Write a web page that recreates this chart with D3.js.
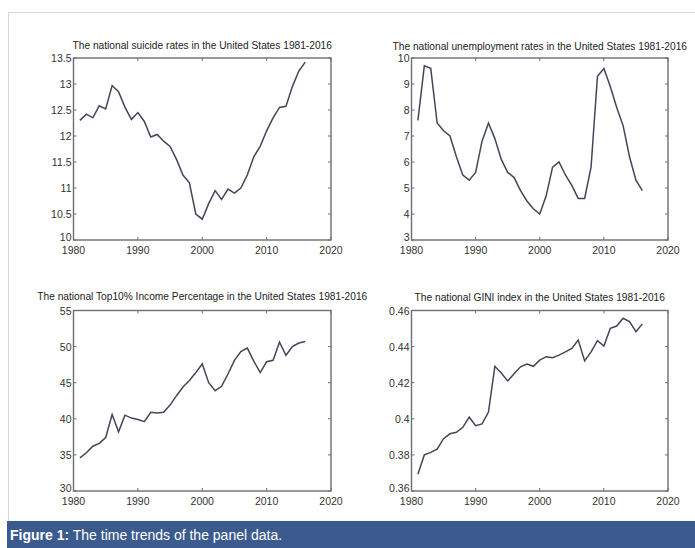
<!DOCTYPE html>
<html>
<head>
<meta charset="utf-8">
<script src="https://cdn.jsdelivr.net/npm/d3@7"></script>
<style>
  body { margin: 0; background: #fff; }
  svg text { font-family: "Liberation Sans", Arial, sans-serif; }
</style>
</head>
<body>
<svg id="fig" width="695" height="548"></svg>
<script>
// years 1981-2016
var years = d3.range(1981, 2017);

var suicide = [12.3, 12.42, 12.35, 12.58, 12.52, 12.97, 12.85, 12.55, 12.32, 12.45,
  12.28, 11.98, 12.03, 11.9, 11.8, 11.55, 11.25, 11.1, 10.5, 10.4,
  10.7, 10.95, 10.78, 10.98, 10.9, 11.0, 11.25, 11.6, 11.8, 12.1,
  12.35, 12.55, 12.57, 12.95, 13.25, 13.42];

var unemployment = [7.6, 9.7, 9.6, 7.5, 7.2, 7.0, 6.2, 5.5, 5.3, 5.6,
  6.8, 7.5, 6.9, 6.1, 5.6, 5.4, 4.9, 4.5, 4.2, 4.0,
  4.7, 5.8, 6.0, 5.5, 5.1, 4.6, 4.6, 5.8, 9.3, 9.6,
  8.9, 8.1, 7.4, 6.2, 5.3, 4.9];

var top10 = [34.6, 35.3, 36.2, 36.6, 37.4, 40.6, 38.2, 40.5, 40.1, 39.9,
  39.6, 40.9, 40.8, 40.9, 41.9, 43.2, 44.4, 45.3, 46.4, 47.6,
  45.0, 43.9, 44.5, 46.2, 48.1, 49.3, 49.8, 48.0, 46.4, 47.9,
  48.1, 50.6, 48.8, 50.0, 50.5, 50.7];

var gini = [0.3693, 0.380, 0.3814, 0.3832, 0.389, 0.3917, 0.3925, 0.3953, 0.4009, 0.3962,
  0.3972, 0.4037, 0.4291, 0.4254, 0.421, 0.425, 0.4288, 0.4303, 0.4291, 0.4325,
  0.4344, 0.4338, 0.4353, 0.4371, 0.439, 0.4436, 0.4321, 0.4371, 0.4433, 0.4403,
  0.4501, 0.4514, 0.4557, 0.4538, 0.4483, 0.4526];

var xTicks = [1980, 1990, 2000, 2010, 2020];

var titles = [
  "The national suicide rates in the United States 1981-2016",
  "The national unemployment rates in the United States 1981-2016",
  "The national Top10% Income Percentage in the United States 1981-2016",
  "The national GINI index in the United States 1981-2016"
];

var yDomains = [[10, 13.5], [3, 10], [30, 55], [0.36, 0.46]];
var yTicks = [
  [10, 10.5, 11, 11.5, 12, 12.5, 13, 13.5],
  [3, 4, 5, 6, 7, 8, 9, 10],
  [30, 35, 40, 45, 50, 55],
  [0.36, 0.38, 0.4, 0.42, 0.44, 0.46]
];
var series = [suicide, unemployment, top10, gini];

var svg = d3.select('#fig');

// frame round the figure
svg.append('rect')
  .attr('x', 8.5).attr('y', 12.5)
  .attr('width', 700).attr('height', 520)
  .attr('fill', 'none')
  .attr('stroke', '#d8d8d8');

// panel boxes
var boxes = [
  {x0: 73.5, x1: 331, y0: 58, y1: 240, ty: 49},
  {x0: 411.5, x1: 668, y0: 58, y1: 240, ty: 50},
  {x0: 73.5, x1: 331, y0: 310.5, y1: 491, ty: 300},
  {x0: 411.5, x1: 668, y0: 310.5, y1: 491, ty: 301}
];

var axisCol = '#6e6e6e';
var lineCol = '#434657';

boxes.forEach(function (b, i) {
  var x = d3.scaleLinear().domain([1980, 2020]).range([b.x0, b.x1]);
  var y = d3.scaleLinear().domain(yDomains[i]).range([b.y1, b.y0]);
  var g = svg.append('g');

  // title
  g.append('text')
    .attr('x', (b.x0 + b.x1) / 2)
    .attr('y', b.ty)
    .attr('text-anchor', 'middle')
    .attr('font-size', 10.2)
    .attr('fill', '#222')
    .text(titles[i]);

  // ticks inside on all four sides
  var tl = 3;
  xTicks.forEach(function (t) {
    g.append('line').attr('x1', x(t)).attr('x2', x(t))
      .attr('y1', b.y1).attr('y2', b.y1 - tl)
      .attr('stroke', axisCol).attr('stroke-width', 1);
    g.append('line').attr('x1', x(t)).attr('x2', x(t))
      .attr('y1', b.y0).attr('y2', b.y0 + tl)
      .attr('stroke', axisCol).attr('stroke-width', 1);
    g.append('text')
      .attr('x', x(t)).attr('y', b.y1 + 14)
      .attr('text-anchor', 'middle')
      .attr('font-size', 10.5)
      .attr('fill', '#333')
      .text(t);
  });
  yTicks[i].forEach(function (t, k) {
    g.append('line').attr('x1', b.x0).attr('x2', b.x0 + tl)
      .attr('y1', y(t)).attr('y2', y(t))
      .attr('stroke', axisCol).attr('stroke-width', 1);
    g.append('line').attr('x1', b.x1).attr('x2', b.x1 - tl)
      .attr('y1', y(t)).attr('y2', y(t))
      .attr('stroke', axisCol).attr('stroke-width', 1);
    // lowest label sits a little higher, clear of the year labels
    g.append('text')
      .attr('x', b.x0 - 2).attr('y', y(t) + (k === 0 ? 1 : 4))
      .attr('text-anchor', 'end')
      .attr('font-size', 10.5)
      .attr('fill', '#333')
      .text(String(t));
  });

  // box
  g.append('rect')
    .attr('x', b.x0).attr('y', b.y0)
    .attr('width', b.x1 - b.x0).attr('height', b.y1 - b.y0)
    .attr('fill', 'none')
    .attr('stroke', axisCol)
    .attr('stroke-width', 1.4);

  // data line
  var line = d3.line()
    .x(function (d, j) { return x(years[j]); })
    .y(function (d) { return y(d); });
  g.append('path')
    .datum(series[i])
    .attr('d', line)
    .attr('fill', 'none')
    .attr('stroke', lineCol)
    .attr('stroke-width', 1.5);
});

// caption bar
svg.append('rect')
  .attr('x', 7).attr('y', 521)
  .attr('width', 690).attr('height', 27)
  .attr('fill', '#3b5a8d');
var cap = svg.append('text')
  .attr('x', 10).attr('y', 540)
  .attr('font-size', 14)
  .attr('fill', '#fff');
cap.append('tspan').attr('font-weight', 'bold').text('Figure 1:');
cap.append('tspan').text(' The time trends of the panel data.');
</script>
</body>
</html>
